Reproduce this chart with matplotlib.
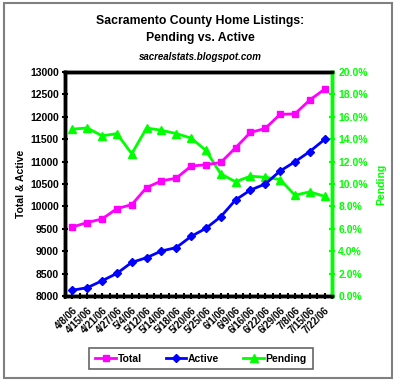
import matplotlib
matplotlib.use("Agg")
import matplotlib.pyplot as plt
import numpy as np
from matplotlib.patches import Rectangle
from matplotlib.ticker import FuncFormatter, MultipleLocator

plt.rcParams['font.family'] = ['Liberation Sans', 'DejaVu Sans']
plt.rcParams['font.weight'] = 'bold'

dates = ['4/8/06', '4/15/06', '4/21/06', '4/27/06', '5/4/06', '5/12/06',
         '5/14/06', '5/18/06', '5/20/06', '5/25/06', '6/1/06', '6/9/06',
         '6/16/06', '6/22/06', '6/29/06', '7/8/06', '7/15/06', '7/22/06']
total = [9540, 9640, 9720, 9950, 10040, 10420, 10570, 10630, 10900,
         10930, 10980, 11310, 11650, 11740, 12055, 12065, 12375, 12615]
active = [8130, 8185, 8340, 8505, 8750, 8855, 9005, 9080, 9330,
          9510, 9770, 10145, 10365, 10500, 10790, 10995, 11225, 11495]
pending = [14.9, 15.0, 14.3, 14.5, 12.7, 15.0, 14.8, 14.5, 14.1,
           13.0, 10.9, 10.2, 10.7, 10.6, 10.4, 9.0, 9.3, 8.9]

magenta = '#FF00FF'
blue = '#0000FF'
green = '#00FF00'

fig = plt.figure(figsize=(4.0, 3.84), dpi=100)
fig.patches.append(Rectangle((4 / 400, 1 - 378 / 384), 388 / 400, 375 / 384,
                             transform=fig.transFigure, fill=False,
                             edgecolor='#808080', linewidth=1.5))

ax = fig.add_axes([65 / 400, 1 - 296 / 384, 267 / 400, 224 / 384])
ax2 = ax.twinx()
x = np.arange(len(dates))

l1, = ax.plot(x, total, color=magenta, marker='s', markersize=5, linewidth=2)
l2, = ax.plot(x, active, color=blue, marker='D', markersize=4.5, linewidth=2)
l3, = ax2.plot(x, pending, color=green, marker='^', markersize=6, linewidth=2)
ax.set_zorder(ax2.get_zorder() + 1)
ax.patch.set_visible(False)

ax.set_xlim(-0.5, len(dates) - 0.5)
ax.set_ylim(8000, 13000)
ax2.set_ylim(0, 20)

ax.set_xticks(x)
ax.set_xticklabels(dates, rotation=45, ha='right', rotation_mode='anchor',
                   fontsize=7, fontweight='bold')
ax.xaxis.set_minor_locator(MultipleLocator(0.5))
ax.yaxis.set_major_locator(MultipleLocator(500))
ax.tick_params(axis='x', which='both', direction='inout', length=5, width=1.5, pad=4)
ax.tick_params(axis='y', direction='inout', length=5, width=1.5, labelsize=7.5, pad=2)
ax2.yaxis.set_major_locator(MultipleLocator(2))
ax2.yaxis.set_major_formatter(FuncFormatter(lambda v, p: f'{v:.1f}%'))
ax2.tick_params(axis='y', direction='inout', length=5, width=1.5, color=green,
                labelcolor=green, labelsize=7.5, pad=2)

for a in (ax, ax2):
    for s in ('left', 'top', 'bottom'):
        a.spines[s].set_linewidth(2.5)
        a.spines[s].set_color('black')
    a.spines['right'].set_linewidth(2.5)
    a.spines['right'].set_color(green)

ax.set_ylabel('Total & Active', fontsize=7.5, fontweight='bold', labelpad=3)
ax2.set_ylabel('Pending', fontsize=7.5, fontweight='bold', color=green, labelpad=6)

fig.text(0.5, 1 - 21 / 384, 'Sacramento County Home Listings:', ha='center',
         va='center', fontsize=8.8, fontweight='bold')
fig.text(0.5, 1 - 38 / 384, 'Pending vs. Active', ha='center', va='center',
         fontsize=8.8, fontweight='bold')
fig.text(0.5, 1 - 57 / 384, 'sacrealstats.blogspot.com', ha='center', va='center',
         fontsize=7, fontweight='bold', style='italic')

leg = fig.legend([l1, l2, l3], ['Total', 'Active', 'Pending'], loc='center',
                 bbox_to_anchor=(201 / 400, 1 - 358.5 / 384), ncol=3,
                 fontsize=7.5, frameon=True, fancybox=False, handlelength=2.0,
                 columnspacing=2.3, handletextpad=0.15, borderpad=0.55,
                 borderaxespad=0, markerscale=0.9)
leg.get_frame().set_edgecolor('#404040')
leg.get_frame().set_linewidth(1.2)

fig.savefig('out.png', dpi=100)
